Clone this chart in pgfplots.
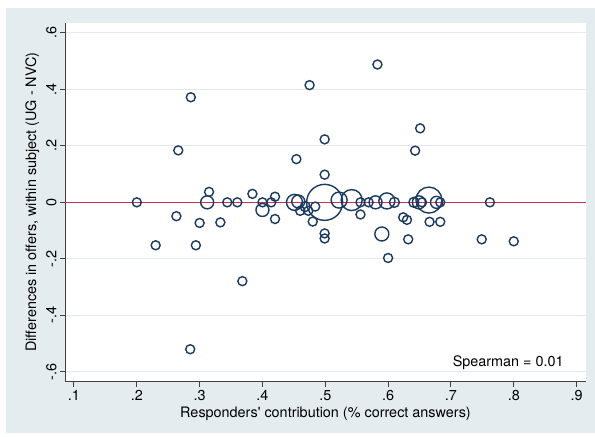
\documentclass[border=0pt]{standalone}
\usepackage{pgfplots}
\pgfplotsset{compat=1.18}
\usepackage{fontspec}
\setmainfont{TeX Gyre Heros}
\definecolor{bgcol}{RGB}{229,236,239}
\definecolor{gridcol}{RGB}{226,234,238}
\definecolor{navy}{RGB}{26,58,96}
\definecolor{redline}{RGB}{205,50,85}
\begin{document}
\begin{tikzpicture}
\path[use as bounding box] (0,0) rectangle (595bp,437bp);
\fill[bgcol] (6bp,4bp) rectangle (595bp,429bp);
\begin{axis}[
  at={(65bp,55.3bp)}, anchor=south west, scale only axis,
  width=521bp, height=359bp,
  xmin=0.0857, xmax=0.915, ymin=-0.635, ymax=0.636,
  axis background/.style={fill=white},
  axis x line=bottom, axis y line=left,
  axis line style={-, draw=black!75, line width=1bp},
  xtick={0.1,0.2,0.3,0.4,0.5,0.6,0.7,0.8,0.9},
  xticklabels={.1,.2,.3,.4,.5,.6,.7,.8,.9},
  ytick={-0.6,-0.4,-0.2,0,0.2,0.4,0.6},
  yticklabels={-.6,-.4,-.2,0,.2,.4,.6},
  ymajorgrids, grid style={gridcol, line width=1.2bp},
  tick align=outside, major tick length=5bp,
  tick style={black!75, line width=1bp},
  font=\fontsize{14.4bp}{16bp}\selectfont,
  y tick label style={rotate=90, anchor=south},
  xlabel={Responders\textquotesingle\ contribution (\% correct answers)},
  ylabel={Differences in offers, within subject (UG - NVC)},
  clip=false,
]
\addplot[redline, line width=1.4bp] coordinates {(0.0857,0) (0.915,0)};
\addplot[scatter, only marks, mark=o, line width=1.4bp,
  scatter/use mapped color={draw=navy, fill=none},
  visualization depends on={\thisrow{r}\as\rad},
  scatter/@pre marker code/.append style={/tikz/mark size=\rad bp}]
  table {
x y r
0.200 0.000 4.5
0.230 -0.152 4.5
0.263 -0.049 4.5
0.266 0.184 4.5
0.286 0.372 4.5
0.285 -0.520 4.5
0.294 -0.152 4.5
0.300 -0.073 4.5
0.312 0.000 6.5
0.315 0.037 4.5
0.333 -0.071 4.5
0.344 0.000 4.5
0.360 0.000 4.5
0.368 -0.279 4.5
0.384 0.030 4.5
0.400 0.000 4.5
0.400 -0.027 6.5
0.414 0.000 4.5
0.420 0.020 4.5
0.420 -0.059 4.5
0.451 0.000 8
0.457 0.003 6.5
0.454 0.153 4.5
0.460 -0.030 4.5
0.468 -0.015 5
0.473 -0.030 4.5
0.475 0.415 4.5
0.480 -0.068 4.5
0.484 -0.015 4.5
0.499 0.000 18
0.499 0.223 4.5
0.499 0.098 4.5
0.499 -0.110 4.5
0.499 -0.128 4.5
0.522 0.008 8
0.542 0.008 10.5
0.556 0.000 4.5
0.556 -0.043 4.5
0.569 0.000 4.5
0.580 0.000 6.5
0.583 0.488 4.5
0.598 0.005 8
0.610 0.000 5
0.590 -0.112 7
0.600 -0.197 4.5
0.624 -0.053 4.5
0.630 -0.062 4.5
0.632 -0.131 4.5
0.643 0.183 4.5
0.651 0.262 4.5
0.641 0.000 5
0.649 0.000 6.5
0.654 0.000 4.5
0.665 0.008 13
0.666 -0.069 4.5
0.683 -0.069 4.5
0.677 0.000 6
0.683 0.000 4.5
0.762 0.000 4.5
0.749 -0.131 4.5
0.800 -0.138 4.5
};
\node[anchor=base east] at (axis cs:0.885,-0.582) {Spearman = 0.01};
\end{axis}
\end{tikzpicture}
\end{document}
